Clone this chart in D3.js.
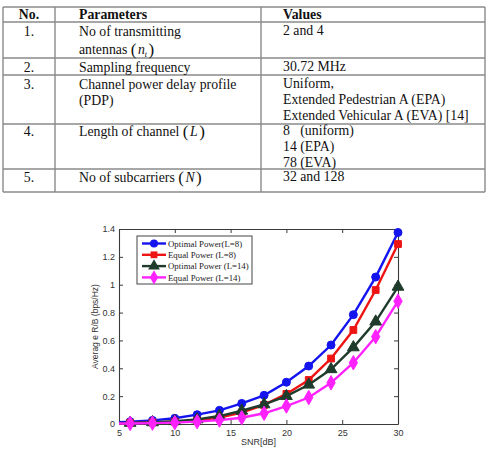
<!DOCTYPE html>
<html>
<head>
<meta charset="utf-8">
<script src="https://cdn.jsdelivr.net/npm/d3@7"></script>
<style>
  body { margin: 0; background: #ffffff; }
  svg { display: block; }
</style>
</head>
<body>
<div id="figure"></div>
<script>
// Table contents.
const tableHeader = ['No.', 'Parameters', 'Values'];
const rowNumbers = ['1.', '2.', '3.', '4.', '5.'];
const rowParams = [
  ['No of transmitting', 'antennas (n_t)'],
  ['Sampling frequency'],
  ['Channel power delay profile', '(PDP)'],
  ['Length of channel (L)'],
  ['No of subcarriers (N)'],
];
const rowValues = [
  ['2 and 4'],
  ['30.72 MHz'],
  ['Uniform,', 'Extended Pedestrian A (EPA)', 'Extended Vehicular A (EVA) [14]'],
  ['8   (uniform)', '14 (EPA)', '78 (EVA)'],
  ['32 and 128'],
];

// Chart data.
const snr = [4, 6, 8, 10, 12, 14, 16, 18, 20, 22, 24, 26, 28, 30];
const optimalL8 = [0.010, 0.017, 0.026, 0.041, 0.067, 0.098, 0.148, 0.206, 0.300, 0.416, 0.567, 0.785, 1.055, 1.375];
const equalL8 = [0.005, 0.008, 0.011, 0.016, 0.026, 0.046, 0.082, 0.137, 0.216, 0.316, 0.470, 0.675, 0.962, 1.292];
const optimalL14 = [0.005, 0.008, 0.012, 0.020, 0.033, 0.057, 0.095, 0.141, 0.200, 0.282, 0.393, 0.550, 0.735, 0.985];
const equalL14 = [0.003, 0.004, 0.006, 0.010, 0.017, 0.028, 0.045, 0.077, 0.129, 0.190, 0.296, 0.440, 0.627, 0.882];
const seriesNames = ['Optimal Power(L=8)', 'Equal Power (L=8)', 'Optimal Power (L=14)', 'Equal Power (L=14)'];
const xTicks = [5, 10, 15, 20, 25, 30];
const yTicks = [0, 0.2, 0.4, 0.6, 0.8, 1, 1.2, 1.4];

const width = 492;
const height = 451;

const svg = d3.select('#figure')
      .append('svg')
      .attr('width', width)
      .attr('height', height)
      .style('background-color', '#ffffff');

// ---- Table ----
const table = {
  left: 3,
  right: 485,
  cols: [3, 55, 261, 485],
  rows: [7, 22, 58, 75, 124, 169, 192],
  firstLine: [13.5, 13.5, 13.5, 11.5, 12.5],
  fontSize: 13.8,
  lineGap: 16,
};

const tg = svg.append('g')
      .style('font-family', '"Liberation Serif", "Times New Roman", serif')
      .style('font-size', table.fontSize + 'px')
      .attr('fill', '#111');

tg.selectAll('line.h')
  .data(table.rows)
  .join('line')
  .attr('class', 'h')
  .attr('x1', table.left)
  .attr('x2', table.right)
  .attr('y1', d => d)
  .attr('y2', d => d)
  .attr('stroke', '#8a8a8a')
  .attr('stroke-width', 1.4);

tg.selectAll('line.v')
  .data(table.cols)
  .join('line')
  .attr('class', 'v')
  .attr('x1', d => d)
  .attr('x2', d => d)
  .attr('y1', table.rows[0])
  .attr('y2', table.rows[table.rows.length - 1])
  .attr('stroke', '#8a8a8a')
  .attr('stroke-width', 1.4);

// write a line, turning "(x)" or "(x_t)" into a math-style variable
function writeLine(sel, str, x, y) {
  const t = sel.append('text').attr('x', x).attr('y', y);
  const m = str.match(/^(.*)\((\w)(?:_(\w))?\)$/);
  if (!m) {
    t.text(str).attr('xml:space', 'preserve').style('white-space', 'pre');
    return t;
  }
  t.append('tspan').text(m[1] + ' ');
  t.append('tspan').text('(').style('font-size', '17px').attr('dy', 1);
  t.append('tspan').text(m[2]).style('font-style', 'italic').attr('dx', 1.5).attr('dy', -1);
  if (m[3]) {
    t.append('tspan').text(m[3]).style('font-style', 'italic').style('font-size', '8px').attr('dy', 3);
    t.append('tspan').text(')').style('font-size', '17px').attr('dx', 1.5).attr('dy', -2);
  } else {
    t.append('tspan').text(')').style('font-size', '17px').attr('dx', 1.5).attr('dy', 1);
  }
  return t;
}

const colCenter = (table.cols[0] + table.cols[1]) / 2;
const paramX = 79;
const valueX = 283;

tg.append('text').attr('x', colCenter).attr('y', table.rows[0] + 11.5)
  .attr('text-anchor', 'middle').style('font-weight', 'bold').text(tableHeader[0]);
tg.append('text').attr('x', paramX).attr('y', table.rows[0] + 11.5)
  .style('font-weight', 'bold').text(tableHeader[1]);
tg.append('text').attr('x', valueX).attr('y', table.rows[0] + 11.5)
  .style('font-weight', 'bold').text(tableHeader[2]);

rowNumbers.forEach((num, i) => {
  const top = table.rows[i + 1];
  const base = top + table.firstLine[i];
  tg.append('text').attr('x', colCenter).attr('y', base)
    .attr('text-anchor', 'middle').text(num);
  rowParams[i].forEach((line, j) => {
    writeLine(tg, line, paramX, base + j * (i === 0 ? 18 : table.lineGap));
  });
  rowValues[i].forEach((line, j) => {
    writeLine(tg, line, valueX, base - 1 + j * table.lineGap);
  });
});

// ---- Chart ----
const plot = { left: 119, right: 398, top: 229, bottom: 424 };

const x = d3.scaleLinear().domain([5, 30]).range([plot.left, plot.right]);
const y = d3.scaleLinear().domain([0, 1.4]).range([plot.bottom, plot.top]);

svg.append('defs').append('clipPath').attr('id', 'plot-clip')
  .append('rect')
  .attr('x', plot.left)
  .attr('y', plot.top - 8)
  .attr('width', plot.right - plot.left + 8)
  .attr('height', plot.bottom - plot.top + 16);

const axisColor = '#3a3a3a';
const tickFont = '"Liberation Sans", Arial, sans-serif';

const xAxis = svg.append('g')
      .attr('transform', `translate(0,${plot.bottom})`)
      .call(d3.axisBottom(x).tickValues(xTicks).tickSizeInner(-4).tickSizeOuter(0).tickPadding(6));
const yAxis = svg.append('g')
      .attr('transform', `translate(${plot.left},0)`)
      .call(d3.axisLeft(y).tickValues(yTicks).tickFormat(d3.format('~g')).tickSizeInner(-4).tickSizeOuter(0).tickPadding(4));
const xAxisTop = svg.append('g')
      .attr('transform', `translate(0,${plot.top})`)
      .call(d3.axisTop(x).tickValues(xTicks).tickSizeInner(-4).tickSizeOuter(0).tickFormat(''));
const yAxisRight = svg.append('g')
      .attr('transform', `translate(${plot.right},0)`)
      .call(d3.axisRight(y).tickValues(yTicks).tickSizeInner(-4).tickSizeOuter(0).tickFormat(''));

[xAxis, yAxis, xAxisTop, yAxisRight].forEach((g) => {
  g.select('.domain').attr('stroke', axisColor).attr('stroke-width', 1.1);
  g.selectAll('.tick line').attr('stroke', axisColor);
  g.selectAll('.tick text')
    .attr('fill', '#333')
    .style('font-family', tickFont)
    .style('font-size', '9px');
});

svg.append('text')
  .attr('x', (plot.left + plot.right) / 2)
  .attr('y', 445)
  .attr('text-anchor', 'middle')
  .attr('fill', '#333')
  .style('font-family', tickFont)
  .style('font-size', '9px')
  .text('SNR[dB]');

svg.append('text')
  .attr('transform', `translate(98,${(plot.top + plot.bottom) / 2}) rotate(-90)`)
  .attr('text-anchor', 'middle')
  .attr('fill', '#333')
  .style('font-family', tickFont)
  .style('font-size', '8.5px')
  .text('Averag e R/B (bps/Hz)');

// Series.
const series = [
  { name: seriesNames[0], values: optimalL8, color: '#1414ee', marker: d3.symbolCircle, size: 50 },
  { name: seriesNames[1], values: equalL8, color: '#ee1414', marker: d3.symbolSquare, size: 46 },
  { name: seriesNames[2], values: optimalL14, color: '#1f3b2c', marker: d3.symbolTriangle, size: 60 },
  { name: seriesNames[3], values: equalL14, color: '#ff22ff', marker: d3.symbolDiamond, size: 60 },
];

const line = d3.line()
      .x((d, i) => x(snr[i]))
      .y(d => y(d));

const plotArea = svg.append('g').attr('clip-path', 'url(#plot-clip)');

series.forEach((s) => {
  plotArea.append('path')
    .datum(s.values)
    .attr('fill', 'none')
    .attr('stroke', s.color)
    .attr('stroke-width', 2.4)
    .attr('d', line);
  plotArea.selectAll(null)
    .data(s.values)
    .join('path')
    .attr('transform', (d, i) => `translate(${x(snr[i])},${y(d)})`)
    .attr('d', d3.symbol().type(s.marker).size(s.size))
    .attr('fill', s.color)
    .attr('stroke', s.color)
    .attr('stroke-width', 1);
});

// Legend.
const legend = svg.append('g');
legend.append('rect')
  .attr('x', 137)
  .attr('y', 236)
  .attr('width', 115)
  .attr('height', 48)
  .attr('fill', '#ffffff')
  .attr('stroke', '#444')
  .attr('stroke-width', 1);

series.forEach((s, i) => {
  const ly = 243.5 + i * 11.3;
  legend.append('line')
    .attr('x1', 142).attr('x2', 166)
    .attr('y1', ly).attr('y2', ly)
    .attr('stroke', s.color)
    .attr('stroke-width', 2.4);
  legend.append('path')
    .attr('transform', `translate(154,${ly})`)
    .attr('d', d3.symbol().type(s.marker).size(s.size))
    .attr('fill', s.color);
  legend.append('text')
    .attr('x', 168)
    .attr('y', ly + 3.2)
    .attr('fill', '#222')
    .style('font-family', '"Liberation Serif", "Times New Roman", serif')
    .style('font-size', '8.8px')
    .text(s.name);
});
</script>
</body>
</html>
